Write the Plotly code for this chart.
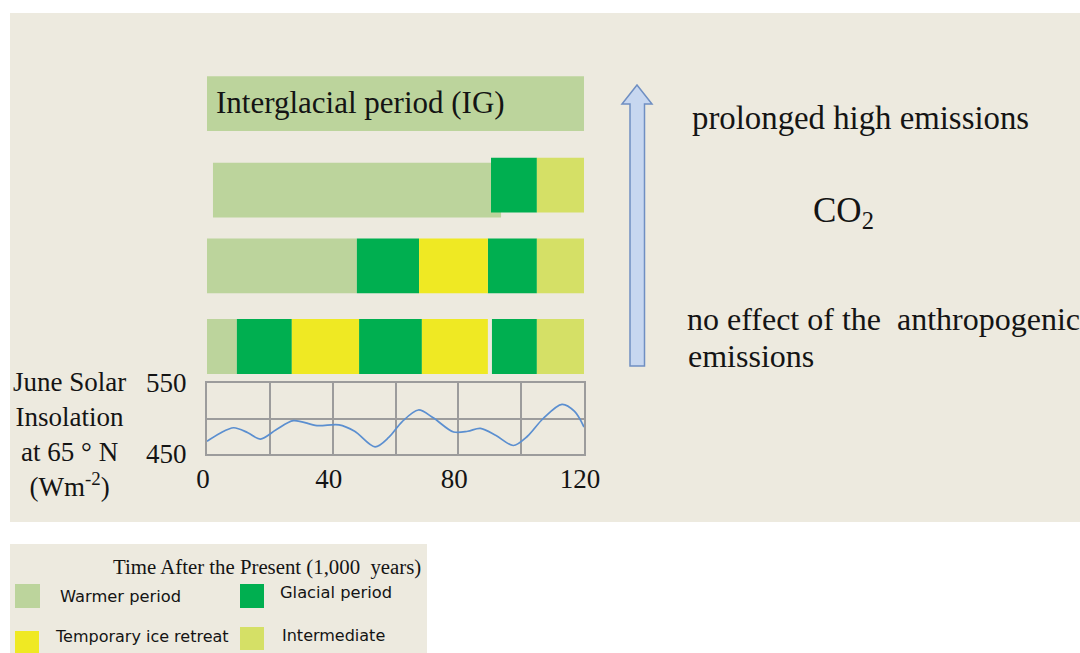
import plotly.graph_objects as go

# ---------------- data ----------------
scenarios = ["Interglacial period (IG)", "Scenario 2", "Scenario 3", "Scenario 4"]  # top to bottom

warm_rows = ["Interglacial period (IG)", "Scenario 2", "Scenario 3", "Scenario 4"]
warm_start = [0, 1.9, 0, 0]
warm_end = [121, 93.6, 47.7, 9.5]

glacial_rows = ["Scenario 2", "Scenario 3", "Scenario 3", "Scenario 4", "Scenario 4", "Scenario 4"]
glacial_start = [90.4, 47.7, 89.4, 9.5, 48.4, 90.7]
glacial_end = [105, 67.5, 105, 27.0, 68.4, 105]

retreat_rows = ["Scenario 3", "Scenario 4", "Scenario 4"]
retreat_start = [67.5, 27.0, 68.4]
retreat_end = [89.4, 48.4, 89.4]

inter_rows = ["Scenario 2", "Scenario 3", "Scenario 4"]
inter_start = [105, 105, 105]
inter_end = [120, 121, 120]

# June solar insolation at 65N (W m-2) vs time after present (kyr)
ins_time = [0, 4, 8.5, 13, 17, 22, 27.5, 35, 42, 47, 53.5, 58, 62, 67.3, 72, 78.5, 83, 87, 92, 97.5, 102, 107, 113, 117, 120]
ins_value = [468, 479, 487, 480, 471, 484, 497, 490, 491, 482, 460, 474, 495, 512, 501, 481, 482, 486, 476, 462, 475, 500, 520, 510, 488]

x_tickvals = [0, 40, 80, 120]
x_minor_vals = [20, 60, 100]
y_tickvals = [450, 550]
y_minor_vals = [500]

# ---------------- styling helpers ----------------
W, H = 1080, 653
def P(px):
    return px / W
def Q(py):
    return 1 - py / H

C_WARM = "#BCD49C"
C_GLAC = "#00AF50"
C_RETR = "#EFE923"
C_INTER = "#D5E066"
BEIGE = "#EDEADF"
SERIF = "Liberation Serif"
SANS = "DejaVu Sans"
TXT = "#141414"

row_y = {name: len(scenarios) - i for i, name in enumerate(scenarios)}
BW = 0.68

def seg_bar(rows, starts, ends, color, name, offsets=None):
    ys = [row_y[r] for r in rows]
    kw = {}
    if offsets is not None:
        kw["offset"] = offsets
    return go.Bar(
        y=ys, base=starts, x=[e - s for s, e in zip(starts, ends)],
        orientation="h", marker=dict(color=color, line=dict(width=0)),
        width=BW, name=name, showlegend=False, hoverinfo="skip",
        xaxis="x", yaxis="y", **kw)

fig = go.Figure()
# warm bar of scenario 2 sits slightly lower than the other segments
warm_offsets = [-BW / 2 + (-0.062 if r == "Scenario 2" else 0) for r in warm_rows]
warm_offsets[0] = -0.33
fig.add_trace(seg_bar(warm_rows, warm_start, warm_end, C_WARM, "Warmer period", warm_offsets))
fig.add_trace(seg_bar(glacial_rows, glacial_start, glacial_end, C_GLAC, "Glacial period"))
fig.add_trace(seg_bar(retreat_rows, retreat_start, retreat_end, C_RETR, "Temporary ice retreat"))
fig.add_trace(seg_bar(inter_rows, inter_start, inter_end, C_INTER, "Intermediate"))

fig.add_trace(go.Scatter(
    x=ins_time, y=ins_value, mode="lines",
    line=dict(color="#5B8FD0", width=1.7, shape="spline", smoothing=0.9),
    xaxis="x2", yaxis="y2", showlegend=False, hoverinfo="skip"))

x_dom = [P(207), P(584)]
# bars: row 4 centre at y=104.5 px, row 1 centre at 346.5 px
ppu = (346.5 - 104.5) / 3
bar_lo, bar_hi = 0.55, 4.45
y_dom = [Q(346.5 + (1 - bar_lo) * ppu), Q(104.5 - (bar_hi - 4) * ppu)]

GRID = "#9C9C9C"
fig.update_layout(
    template="none",
    width=W, height=H, autosize=False, showlegend=False,
    margin=dict(l=0, r=0, t=0, b=0, pad=0, autoexpand=False),
    paper_bgcolor="white", plot_bgcolor="rgba(0,0,0,0)",
    barmode="overlay",
    xaxis=dict(domain=x_dom, range=[0, 120], visible=False, fixedrange=True, automargin=False),
    yaxis=dict(domain=y_dom, range=[bar_lo, bar_hi], visible=False, fixedrange=True, automargin=False),
    xaxis2=dict(domain=x_dom, range=[0, 120], anchor="y2", automargin=False,
                tickvals=x_tickvals, ticks="",
                showgrid=True, gridcolor=GRID, gridwidth=2,
                minor=dict(tickvals=x_minor_vals, showgrid=True, gridcolor=GRID, gridwidth=2, ticks=""),
                showline=True, linecolor=GRID, linewidth=2, mirror=True,
                zeroline=False, ticklabelstandoff=0, ticklabelshift=-4,
                tickfont=dict(family=SERIF, size=27, color=TXT)),
    yaxis2=dict(domain=[Q(454), Q(383)], range=[450, 550], anchor="x2", automargin=False,
                tickvals=y_tickvals, ticks="",
                showgrid=True, gridcolor=GRID, gridwidth=2,
                minor=dict(tickvals=y_minor_vals, showgrid=True, gridcolor=GRID, gridwidth=2, ticks=""),
                showline=True, linecolor=GRID, linewidth=2, mirror=True,
                zeroline=False, ticklabelstandoff=13,
                tickfont=dict(family=SERIF, size=27, color=TXT)),
)

shapes = []
# background panels
shapes.append(dict(type="rect", xref="paper", yref="paper", x0=P(10), x1=P(1080), y0=Q(522), y1=Q(13),
                   fillcolor=BEIGE, line=dict(width=0), layer="below"))
shapes.append(dict(type="rect", xref="paper", yref="paper", x0=P(10), x1=P(427), y0=Q(653), y1=Q(544),
                   fillcolor=BEIGE, line=dict(width=0), layer="below"))
# CO2 arrow
pts = [(637, 85), (652, 104), (644.5, 104), (644.5, 366), (630, 366), (630, 104), (622, 104)]
path = "M " + " L ".join(f"{P(a):.5f},{Q(b):.5f}" for a, b in pts) + " Z"
shapes.append(dict(type="path", xref="paper", yref="paper", path=path,
                   fillcolor="#C7D7F0", line=dict(color="#6F8FC2", width=1.5)))
# legend swatches
for (x0, y0, x1, y1, c) in [(15, 584, 40, 608, C_WARM), (240, 584, 264, 608, C_GLAC),
                            (15, 631, 39, 654, C_RETR), (240, 627, 264, 650, C_INTER)]:
    shapes.append(dict(type="rect", xref="paper", yref="paper", x0=P(x0), x1=P(x1), y0=Q(y1), y1=Q(y0),
                       fillcolor=c, line=dict(width=0)))
fig.update_layout(shapes=shapes)

def ann(text, px, py, size, family=SERIF, xanchor="left", align="left"):
    return dict(text=text, x=P(px), y=Q(py), xref="paper", yref="paper",
                xanchor=xanchor, yanchor="middle", showarrow=False, align=align,
                font=dict(family=family, size=size, color=TXT))

annotations = [
    ann(scenarios[0], 214, 102, 31),
    ann("prolonged high emissions", 690, 118, 32.8),
    ann("CO<sub>2</sub>", 811, 212, 35),
    ann("no effect of the  anthropogenic", 685, 319, 32),
    ann("emissions", 686, 356, 32),
    ann("June Solar<br>Insolation<br>at 65 ° N<br>(Wm<sup>-2</sup>)", 69, 434, 27, xanchor="center", align="center"),
    ann("Time After the Present (1,000  years)", 111, 567, 20.8),
    ann("Warmer period", 58, 596, 16.3, family=SANS),
    ann("Glacial period", 278, 592, 16.3, family=SANS),
    ann("Temporary ice retreat", 53, 636, 16, family=SANS),
    ann("Intermediate", 280, 635, 16, family=SANS),
]
fig.update_layout(annotations=annotations)

fig.write_html("out.html", config={"responsive": False, "displayModeBar": False},
               post_script="document.body.style.margin='0';document.body.style.overflow='hidden';")
